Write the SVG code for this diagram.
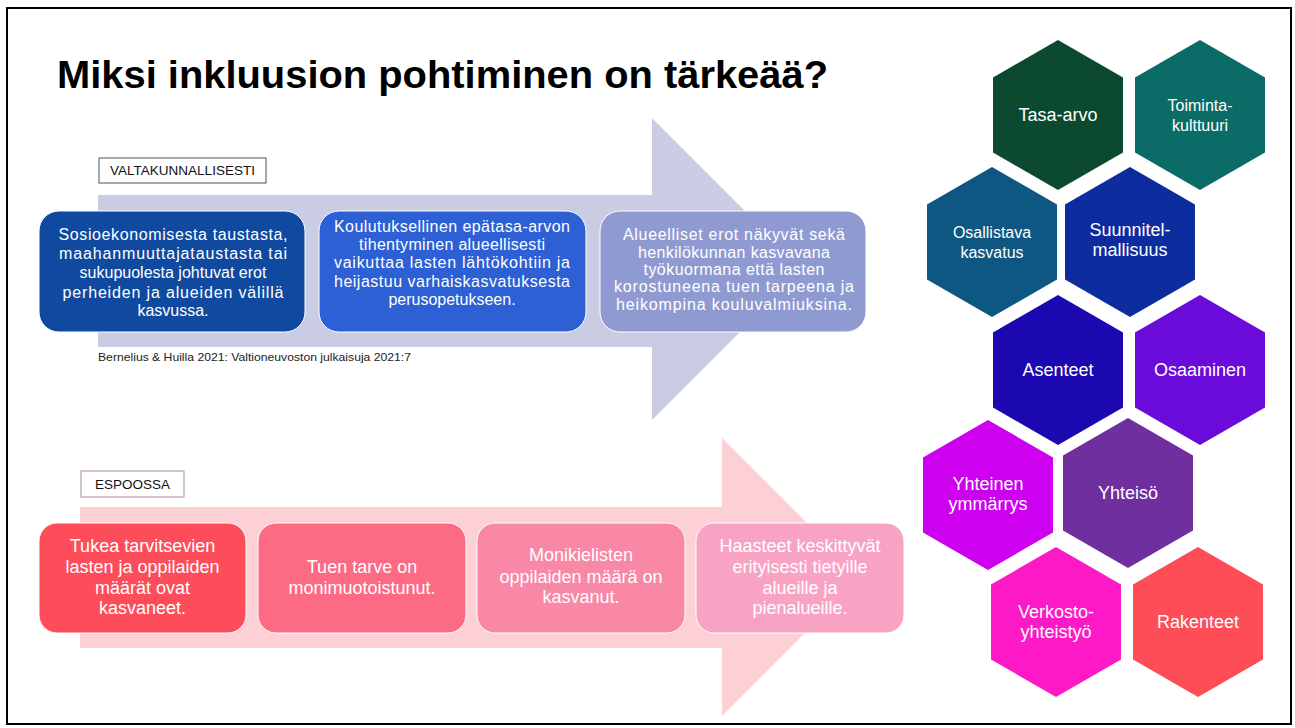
<svg xmlns="http://www.w3.org/2000/svg" width="1295" height="728" viewBox="0 0 1295 728">
<defs>
<style>
text{font-family:"Liberation Sans",Arial,sans-serif}
.t{fill:#fff;text-anchor:middle}
.s16{font-size:16px}
.s18{font-size:18px}
.hx{fill:#fff;text-anchor:middle;font-size:18px}
.hx16{fill:#fff;text-anchor:middle;font-size:16px}
.box{stroke:#fff;stroke-width:1}
.lbl{font-size:13.5px;fill:#111;text-anchor:middle}
</style>
<polygon id="hex" points="0,-75 65,-37.5 65,37.5 0,75 -65,37.5 -65,-37.5"/>
</defs>
<rect x="0" y="0" width="1295" height="728" fill="#fff"/>
<rect x="7" y="8" width="1284" height="716" fill="#fff" stroke="#000" stroke-width="2"/>

<text x="57" y="88" font-size="38" font-weight="bold" fill="#000" textLength="771" lengthAdjust="spacingAndGlyphs">Miksi inkluusion pohtiminen on tärkeää?</text>

<g id="arrow-top">
<polygon points="98,195 652,195 652,118 803,269 652,420 652,347 98,347" fill="#c9cce3"/>
</g>
<g id="arrow-bottom">
<polygon points="80,507 722,507 722,438 861,577 722,716 722,648 80,648" fill="#fcd0d4"/>
</g>

<g id="label-valtakunnallisesti">
<rect x="99" y="158" width="167" height="25" fill="#fff" stroke="#44546a" stroke-width="1"/>
<text class="lbl" x="182.5" y="175">VALTAKUNNALLISESTI</text>
</g>

<g id="box-v1">
<rect class="box" x="39" y="211" width="266" height="121" rx="20" fill="#0f4aa0"/>
<text class="t s16" x="173" y="240" textLength="229" lengthAdjust="spacing">Sosioekonomisesta taustasta,</text>
<text class="t s16" x="173" y="259" textLength="228" lengthAdjust="spacing">maahanmuuttajataustasta tai</text>
<text class="t s16" x="173" y="278">sukupuolesta johtuvat erot</text>
<text class="t s16" x="173" y="298" textLength="221" lengthAdjust="spacing">perheiden ja alueiden välillä</text>
<text class="t s16" x="173" y="316">kasvussa.</text>
</g>

<g id="box-v2">
<rect class="box" x="319" y="211" width="267" height="121" rx="20" fill="#2c60d4"/>
<text class="t s16" x="452" y="232" textLength="236" lengthAdjust="spacing">Koulutuksellinen epätasa-arvon</text>
<text class="t s16" x="452" y="250" textLength="186" lengthAdjust="spacing">tihentyminen alueellisesti</text>
<text class="t s16" x="452" y="268" textLength="236" lengthAdjust="spacing">vaikuttaa lasten lähtökohtiin ja</text>
<text class="t s16" x="452" y="287" textLength="236" lengthAdjust="spacing">heijastuu varhaiskasvatuksesta</text>
<text class="t s16" x="452" y="305">perusopetukseen.</text>
</g>

<g id="box-v3">
<rect class="box" x="600" y="211" width="266" height="121" rx="20" fill="#8f9bd0"/>
<text class="t s16" x="734" y="240" textLength="222" lengthAdjust="spacing">Alueelliset erot näkyvät sekä</text>
<text class="t s16" x="734" y="258" textLength="192" lengthAdjust="spacing">henkilökunnan kasvavana</text>
<text class="t s16" x="734" y="275" textLength="181" lengthAdjust="spacing">työkuormana että lasten</text>
<text class="t s16" x="734" y="292" textLength="240" lengthAdjust="spacing">korostuneena tuen tarpeena ja</text>
<text class="t s16" x="734" y="310" textLength="236" lengthAdjust="spacing">heikompina kouluvalmiuksina.</text>
</g>

<text x="98" y="361" font-size="11" fill="#222" textLength="313" lengthAdjust="spacingAndGlyphs">Bernelius &amp; Huilla 2021: Valtioneuvoston julkaisuja 2021:7</text>

<g id="label-espoossa">
<rect x="81" y="471" width="103" height="26" fill="#fff" stroke="#a88a90" stroke-width="1"/>
<text class="lbl" x="132.5" y="489">ESPOOSSA</text>
</g>

<g id="box-e1">
<rect class="box" x="39" y="523" width="207" height="110" rx="18" fill="#fe4d5a"/>
<text class="t s18" x="142.5" y="552">Tukea tarvitsevien</text>
<text class="t s18" x="142.5" y="573">lasten ja oppilaiden</text>
<text class="t s18" x="142.5" y="594">määrät ovat</text>
<text class="t s18" x="142.5" y="614">kasvaneet.</text>
</g>
<g id="box-e2">
<rect class="box" x="258" y="523" width="208" height="110" rx="18" fill="#fd6a84"/>
<text class="t s18" x="362" y="573">Tuen tarve on</text>
<text class="t s18" x="362" y="594">monimuotoistunut.</text>
</g>
<g id="box-e3">
<rect class="box" x="477" y="523" width="208" height="110" rx="18" fill="#f888a6"/>
<text class="t s18" x="581" y="561">Monikielisten</text>
<text class="t s18" x="581" y="583">oppilaiden määrä on</text>
<text class="t s18" x="581" y="603">kasvanut.</text>
</g>
<g id="box-e4">
<rect class="box" x="696" y="523" width="208" height="110" rx="18" fill="#f9a3c4"/>
<text class="t s18" x="800" y="552">Haasteet keskittyvät</text>
<text class="t s18" x="800" y="573">erityisesti tietyille</text>
<text class="t s18" x="800" y="594">alueille ja</text>
<text class="t s18" x="800" y="614">pienalueille.</text>
</g>

<g id="hex-tasa-arvo" transform="translate(1058,115)">
<use href="#hex" fill="#0b4a2f"/>
<text class="hx" x="0" y="6">Tasa-arvo</text>
</g>
<g id="hex-toimintakulttuuri" transform="translate(1200,115)">
<use href="#hex" fill="#0b6b66"/>
<text class="hx16" x="0" y="-4">Toiminta-</text>
<text class="hx16" x="0" y="16">kulttuuri</text>
</g>
<g id="hex-osallistava" transform="translate(992,242)">
<use href="#hex" fill="#0f5783"/>
<text class="hx16" x="0" y="-4">Osallistava</text>
<text class="hx16" x="0" y="16">kasvatus</text>
</g>
<g id="hex-suunnitelmallisuus" transform="translate(1130,242)">
<use href="#hex" fill="#0d2d9e"/>
<text class="hx" x="0" y="-6">Suunnitel-</text>
<text class="hx" x="0" y="14">mallisuus</text>
</g>
<g id="hex-asenteet" transform="translate(1058,370)">
<use href="#hex" fill="#1b08b0"/>
<text class="hx" x="0" y="6">Asenteet</text>
</g>
<g id="hex-osaaminen" transform="translate(1200,370)">
<use href="#hex" fill="#6b0bd9"/>
<text class="hx" x="0" y="6">Osaaminen</text>
</g>
<g id="hex-yhteinen" transform="translate(988,495)">
<use href="#hex" fill="#cd00ef"/>
<text class="hx" x="0" y="-5">Yhteinen</text>
<text class="hx" x="0" y="15">ymmärrys</text>
</g>
<g id="hex-yhteiso" transform="translate(1128,493)">
<use href="#hex" fill="#6f2f9f"/>
<text class="hx" x="0" y="6">Yhteisö</text>
</g>
<g id="hex-verkosto" transform="translate(1056,622)">
<use href="#hex" fill="#fe19c7"/>
<text class="hx" x="0" y="-4">Verkosto-</text>
<text class="hx" x="0" y="16">yhteistyö</text>
</g>
<g id="hex-rakenteet" transform="translate(1198,622)">
<use href="#hex" fill="#fe4d57"/>
<text class="hx" x="0" y="6">Rakenteet</text>
</g>
<g id="connectors"/>
</svg>
